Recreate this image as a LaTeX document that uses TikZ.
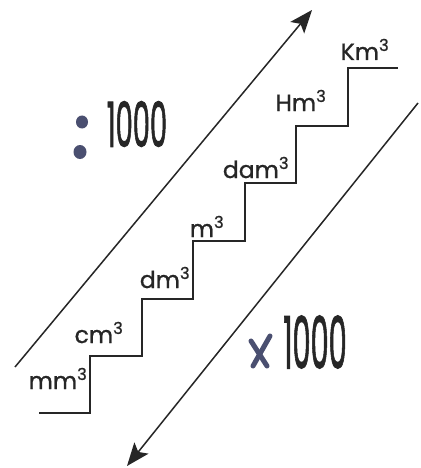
\documentclass[tikz,border=0pt]{standalone}
\usepackage{fontspec}
\setmainfont{Poppins}[UprightFeatures={FakeBold=0.9}]
\newfontfamily\numfont{Poppins}[UprightFeatures={FakeBold=1.8}]
\usetikzlibrary{arrows.meta}
\definecolor{ink}{HTML}{262626}
\definecolor{penblue}{HTML}{4A4F70}
\tikzset{
  unit/.style={anchor=base, text=ink, font=\fontsize{23.5}{23.5}\selectfont, inner sep=0pt},
  bignum/.style={text=ink, inner sep=0pt},
  stair/.style={draw=ink, line width=1.6pt},
  conv/.style={draw=ink, line width=1.5pt, -{Stealth[length=23pt,width=18pt,inset=5pt]}},
}
\begin{document}
\begin{tikzpicture}[x=1pt,y=-1pt]
\useasboundingbox[fill=white] (0,0) rectangle (420,468);

% staircase of volume units
\draw[stair] (39,413) -- (90,413) -- (90,356) -- (142,356) -- (142,299)
  -- (193,299) -- (193,241) -- (245,241) -- (245,183) -- (296,183)
  -- (296,126) -- (348,126) -- (348,68) -- (398,68);

\node[unit] (mm) at (58,389) {mm\textsuperscript{3}};
\node[unit] (cm) at (99,343) {cm\textsuperscript{3}};
\node[unit] (dm) at (165,288) {dm\textsuperscript{3}};
\node[unit] (m) at (207,237) {m\textsuperscript{3}};
\node[unit] (dam) at (256,178) {dam\textsuperscript{3}};
\node[unit] (hm) at (301,111) {Hm\textsuperscript{3}};
\node[unit] (km) at (365,60) {Km\textsuperscript{3}};

% conversion arrows
\coordinate (upS) at (15,367);
\coordinate (upE) at (312,10);
\coordinate (dnS) at (418,103);
\coordinate (dnE) at (127,466);
\draw[conv] (upS) -- (upE);
\draw[conv] (dnS) -- (dnE);

% divide by 1000
\fill[penblue] (82,122) ellipse (6 and 6.5);
\fill[penblue] (80,152) ellipse (6.5 and 7);
\node[bignum, font=\numfont\fontsize{62}{62}\selectfont] (div) at (137,124) {\scalebox{0.44}[1]{1000}};

% multiply by 1000
\draw[penblue, line width=5pt, line cap=round] (251,341) -- (267,366);
\draw[penblue, line width=5pt, line cap=round] (270,336) -- (253,366);
\node[bignum, font=\numfont\fontsize{72}{72}\selectfont] (mul) at (315,342) {\scalebox{0.4}[1]{1000}};
\end{tikzpicture}
\end{document}
